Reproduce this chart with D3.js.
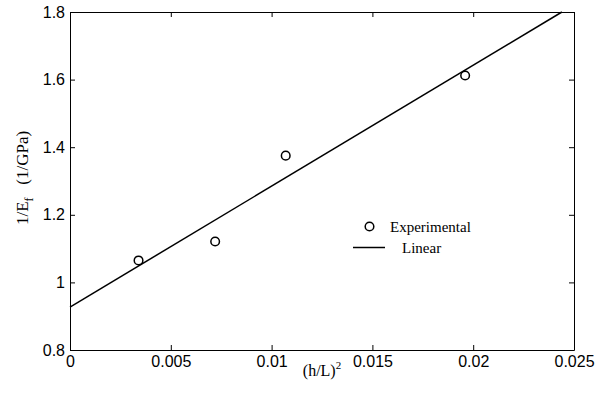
<!DOCTYPE html>
<html>
<head>
<meta charset="utf-8">
<script src="https://cdn.jsdelivr.net/npm/d3@7"></script>
<style>
  body { margin: 0; background: #fff; }
  svg { display: block; }
  .tick text { font-family: "Liberation Sans", Arial, sans-serif; font-size: 16px; fill: #000; }
  .domain, .tick line { stroke: #000; }
  .lbl { font-family: "Liberation Serif", "Times New Roman", serif; font-size: 15px; fill: #000; }
</style>
</head>
<body>
<svg id="chart" width="605" height="405"></svg>
<script>
// measured points
const xExp = [0.0034, 0.0072, 0.0107, 0.0196];
const yExp = [1.065, 1.121, 1.375, 1.612];

// linear fit, end points (runs out the top of the box)
const xFit = [0, 0.0244];
const yFit = [0.927, 1.8];

const xTicks = [0, 0.005, 0.01, 0.015, 0.02, 0.025];
const xTickLabels = ["0", "0.005", "0.01", "0.015", "0.02", "0.025"];
const yTicks = [0.8, 1, 1.2, 1.4, 1.6, 1.8];
const yTickLabels = ["0.8", "1", "1.2", "1.4", "1.6", "1.8"];

const legendLabels = ["Experimental", "Linear"];

const svg = d3.select('#chart');
const plotL = 70, plotR = 574, plotT = 12, plotB = 350;

const x = d3.scaleLinear().domain([0, 0.025]).range([plotL, plotR]);
const y = d3.scaleLinear().domain([0.8, 1.8]).range([plotB, plotT]);

svg.append('g')
    .attr('transform', `translate(0,${plotB})`)
    .call(d3.axisBottom(x).tickValues(xTicks).tickFormat((d, i) => xTickLabels[i])
        .tickSize(-5).tickSizeOuter(0).tickPadding(6));

svg.append('g')
    .attr('transform', `translate(0,${plotT})`)
    .call(d3.axisTop(x).tickValues(xTicks).tickFormat('')
        .tickSize(-5).tickSizeOuter(0));

svg.append('g')
    .attr('transform', `translate(${plotL},0)`)
    .call(d3.axisLeft(y).tickValues(yTicks).tickFormat((d, i) => yTickLabels[i])
        .tickSize(-5).tickSizeOuter(0).tickPadding(5));

svg.append('g')
    .attr('transform', `translate(${plotR},0)`)
    .call(d3.axisRight(y).tickValues(yTicks).tickFormat('')
        .tickSize(-5).tickSizeOuter(0));

// fit line
const fit = xFit.map((d, i) => [d, yFit[i]]);
svg.append('path')
    .datum(fit)
    .attr('fill', 'none')
    .attr('stroke', '#000')
    .attr('stroke-width', 1.5)
    .attr('d', d3.line().x(d => x(d[0])).y(d => y(d[1])));

// markers
svg.selectAll('.pt')
    .data(xExp.map((d, i) => [d, yExp[i]]))
    .enter().append('circle')
    .attr('class', 'pt')
    .attr('cx', d => x(d[0]))
    .attr('cy', d => y(d[1]))
    .attr('r', 4.3)
    .attr('fill', 'none')
    .attr('stroke', '#000')
    .attr('stroke-width', 1.5);

// axis titles
const xt = svg.append('text')
    .attr('class', 'lbl')
    .attr('x', 322)
    .attr('y', 376)
    .attr('font-size', '16px')
    .style('font-size', '16px')
    .attr('text-anchor', 'middle');
xt.append('tspan').text('(h/L)');
xt.append('tspan').attr('dy', -7).style('font-size', '11px').text('2');

const yt = svg.append('text')
    .attr('class', 'lbl')
    .style('font-size', '17px')
    .attr('transform', 'translate(28,178) rotate(-90)')
    .attr('text-anchor', 'middle');
yt.append('tspan').text('1/E');
yt.append('tspan').attr('dy', 5).style('font-size', '12px').text('f');
yt.append('tspan').attr('dy', -5).text('\u00a0\u00a0\u00a0(1/GPa)');

// legend
const lg = svg.append('g');
lg.append('circle')
    .attr('cx', 369.5).attr('cy', 226.5).attr('r', 4.3)
    .attr('fill', 'none').attr('stroke', '#000').attr('stroke-width', 1.5);
lg.append('text').attr('class', 'lbl').attr('x', 390).attr('y', 231.5).text(legendLabels[0]);
lg.append('line')
    .attr('x1', 353).attr('x2', 385).attr('y1', 247.5).attr('y2', 247.5)
    .attr('stroke', '#000').attr('stroke-width', 1.5);
lg.append('text').attr('class', 'lbl').attr('x', 402).attr('y', 253).text(legendLabels[1]);
</script>
</body>
</html>
